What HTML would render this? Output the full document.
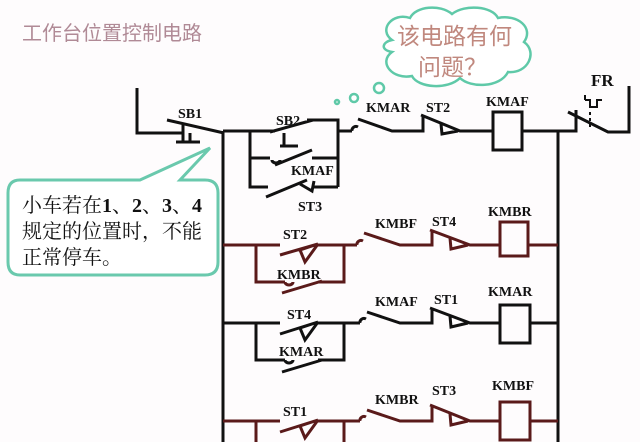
<!DOCTYPE html>
<html><head><meta charset="utf-8"><style>
body{margin:0;background:#fff;}
svg{display:block;}
.t{font-family:"Liberation Serif","Noto Serif CJK SC",serif;font-weight:bold;font-size:14px;fill:#111;}
</style></head><body>
<svg width="640" height="442" viewBox="0 0 640 442" xmlns="http://www.w3.org/2000/svg">
<rect width="640" height="442" fill="#fefcfd"/>
<text x="22" y="40" font-family="Liberation Sans,'Noto Sans CJK SC',sans-serif" font-size="20" fill="#b08a96">工作台位置控制电路</text>

<!-- cloud -->
<g fill="#fff" stroke="#5fc9a8" stroke-width="2.5">
<path d="M392,40 C378,30 392,12 410,18 C416,6 440,4 452,14 C465,4 492,6 498,18 C518,14 534,28 524,42 C538,52 528,74 508,72 C500,88 470,88 460,78 C448,90 418,88 412,76 C392,80 378,62 392,52 C380,50 382,42 392,40 Z"/>
<circle cx="379" cy="88" r="5"/><circle cx="354" cy="98" r="4"/><circle cx="337" cy="102" r="2"/>
</g>
<g font-family="Liberation Sans,'Noto Sans CJK SC',sans-serif" font-size="23" fill="#c0887e">
<text x="397" y="44">该电路有何</text><text x="418" y="75">问题？</text>
</g>

<g stroke="#111" stroke-width="3" fill="none">
<path d="M137,88 V133 H183"/>
<path d="M167,120 L224,133"/>
<path d="M183,125 V142 M176,142 H200 M190,133 V142"/>
<path d="M223,131 V442"/>
<path d="M223,131 H275 M270,132 L313,120 M307,120 H338 V187 M250,131 V187 H268 M250,158 H270 M275,165 L312,150 M312,158 H338 M266,197 L307,180 M312,187 H338"/>
<path d="M284,133 V146 M280,146 H298"/>
<path d="M272,160 a4,3 0 0 0 8,0" />
<path d="M300,184 L312,191 L314,181"/>
<path d="M338,131 H352 M352,131 a4,4 0 0 1 6,-4 M358,119 L392,131 H423 V117 M421,115 L460,131 H493 M441,124 L442,134 L458,131"/>
<rect x="493" y="112" width="29" height="38"/>
<path d="M522,131 H576 V110 M568,112 L608,132 H629 V86"/>
<path d="M585,100 V95 M585,100 H590 V107 H597 V100 H602" stroke-width="2"/>
<path d="M590,112 V128" stroke-width="2" stroke-dasharray="3,3"/>
<path d="M558,131 V442"/>
</g>

<g stroke="#5a1a1a" stroke-width="3" fill="none">
<path d="M223,245 H280 M280,255 L318,244 L300,250 L305,262 L318,244 M316,245 H357 M256,245 V282 H285 M344,245 V282 H318 M285,282 a4,3 0 0 0 8,0 M282,293 L322,281"/>
<path d="M357,245 a4,4 0 0 1 6,-4 M364,233 L400,245 H432 V232 M430,230 L470,245 H500 M450,238 L451,249 L468,245"/>
<rect x="500" y="222" width="28" height="34"/>
<path d="M528,245 H558"/>
</g>

<g stroke="#111" stroke-width="3" fill="none">
<path d="M223,323 H280 M280,334 L318,322 L300,328 L305,340 L318,322 M316,323 H360 M256,323 V360 H285 M344,323 V360 H318 M285,360 a4,3 0 0 0 8,0 M282,372 L322,360"/>
<path d="M360,323 a4,4 0 0 1 6,-4 M367,312 L400,323 H432 V310 M430,308 L470,323 H500 M450,316 L451,327 L468,323"/>
<rect x="500" y="305" width="30" height="38"/>
<path d="M530,323 H558"/>
</g>

<g stroke="#5a1a1a" stroke-width="3" fill="none">
<path d="M223,421 H280 M280,432 L318,420 L300,426 L305,438 L318,420 M316,421 H360 M256,421 V442 M344,421 V442"/>
<path d="M360,421 a4,4 0 0 1 6,-4 M367,410 L400,421 H432 V407 M430,405 L470,421 H500 M450,414 L451,425 L468,421"/>
<rect x="500" y="402" width="30" height="38"/>
<path d="M530,421 H558"/>
</g>

<text class="t" x="178" y="118">SB1</text>
<text class="t" x="276" y="125">SB2</text>
<text class="t" x="291" y="175">KMAF</text>
<text class="t" x="298" y="211">ST3</text>
<text class="t" x="366" y="112">KMAR</text>
<text class="t" x="426" y="112">ST2</text>
<text class="t" x="486" y="106">KMAF</text>
<text class="t" x="591" y="86" style="font-size:17px">FR</text>

<text class="t" x="283" y="239">ST2</text>
<text class="t" x="277" y="279">KMBR</text>
<text class="t" x="375" y="228">KMBF</text>
<text class="t" x="432" y="226">ST4</text>
<text class="t" x="488" y="216">KMBR</text>

<text class="t" x="287" y="319">ST4</text>
<text class="t" x="279" y="356">KMAR</text>
<text class="t" x="375" y="306">KMAF</text>
<text class="t" x="434" y="304">ST1</text>
<text class="t" x="488" y="296">KMAR</text>

<text class="t" x="283" y="416">ST1</text>
<text class="t" x="375" y="404">KMBR</text>
<text class="t" x="432" y="395">ST3</text>
<text class="t" x="492" y="390">KMBF</text>

<path d="M20,180 H140 L210,148 L180,180 H205 Q218,180 218,193 V262 Q218,275 205,275 H20 Q8,275 8,262 V193 Q8,180 20,180 Z" fill="#fff" stroke="#6ac9ad" stroke-width="3"/>
<g font-family="Liberation Serif,'Noto Serif CJK SC',serif" font-size="20" fill="#111">
<text x="22" y="212">小车若在<tspan font-weight="bold">1</tspan>、<tspan font-weight="bold">2</tspan>、<tspan font-weight="bold">3</tspan>、<tspan font-weight="bold">4</tspan></text>
<text x="22" y="238">规定的位置时，不能</text>
<text x="22" y="264">正常停车。</text>
</g>
</svg>
</body></html>
